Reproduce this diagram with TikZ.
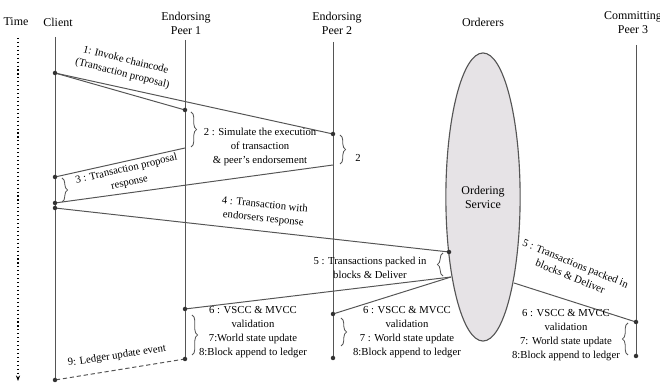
\documentclass[tikz,border=0pt]{standalone}
\usepackage{fontspec}
\setmainfont{Liberation Serif}
\usetikzlibrary{arrows.meta,calc,positioning,decorations.pathreplacing,shapes.geometric}
\definecolor{ordfill}{HTML}{E6E3E6}
\definecolor{linegray}{HTML}{555555}

\begin{document}
\begin{tikzpicture}[x=0.025cm,y=-0.025cm,
  head/.style={align=center,font=\fontsize{8.5}{10}\selectfont,inner sep=0pt},
  lbl/.style={align=center,font=\fontsize{7.6}{9.8}\selectfont,inner sep=0pt},
  life/.style={draw=linegray,line width=0.6pt},
  msg/.style={draw=linegray,line width=0.7pt},
  dot/.style={circle,fill=black!80,inner sep=0pt,minimum size=3.2pt},
  brc/.style={decorate,decoration={brace,amplitude=4pt},draw=linegray,line width=0.6pt}]
\useasboundingbox (0,0) rectangle (660,385);

% Draw headers
\node[head] (time) at (16,22) {Time};
\node[head] (client) at (58,22) {Client};
\node[head] (ep1) at (186,23) {Endorsing\\Peer 1};
\node[head] (ep2) at (337,23) {Endorsing\\Peer 2};
\node[head] (orderers) at (483,22) {Orderers};
\node[head] (cp3) at (633,23) {Committing\\Peer 3};

% Draw ordering service
\node[ellipse,draw=linegray,fill=ordfill,line width=0.8pt,minimum width=1.85cm,minimum height=7.2cm,
  align=center,font=\fontsize{8.5}{10}\selectfont] (ord) at (483,197) {Ordering\\Service};

% Points on the lifelines
\coordinate (t0) at (18,38);   \coordinate (t1) at (18,381);
\coordinate (c0) at (55,37);   \coordinate (c1) at (55,73);
\coordinate (c3a) at (55,177); \coordinate (c3b) at (55,203);
\coordinate (c4) at (55,208);  \coordinate (c9) at (55,380);
\coordinate (e10) at (185,40); \coordinate (e1in) at (185,110);
\coordinate (e1out) at (185,148); \coordinate (e1blk) at (185,309);
\coordinate (e1end) at (185,359);
\coordinate (e20) at (333,42); \coordinate (e2in) at (333,134);
\coordinate (e2out) at (333,165); \coordinate (e2blk) at (333,314);
\coordinate (e2end) at (333,358);
\coordinate (p30) at (636,45); \coordinate (p3blk) at (636,322);
\coordinate (p3end) at (636,356);
\coordinate (o4) at (449,252); \coordinate (o5) at (451,277);
\coordinate (o5r) at (514,283);

% Draw lifelines
\draw[dotted,line width=0.8pt,-{Stealth[length=4pt]}] (t0) -- (t1);
\draw[life] (c0) -- (c9);
\draw[life] (e10) -- (e1end);
\draw[life] (e20) -- (e2end);
\draw[life] (p30) -- (p3end);

% Draw messages
\draw[msg] (c1) -- (e1in);
\draw[msg] (c1) -- (e2in);
\draw[msg] (e1out) -- (c3a);
\draw[msg] (e2out) -- (c3b);
\draw[msg] (c4) -- (o4);
\draw[msg] (o5) -- (e1blk);
\draw[msg] (o5) -- (e2blk);
\draw[msg] (o5r) -- (p3blk);
\draw[msg,densely dashed] (e1end) -- (c9);
\foreach \p in {c1,e1in,e2in,c3a,c3b,c4,o4,e1blk,e2blk,p3blk,e1end,e2end,p3end,c9}
  \node[dot] at (\p) {};

% Draw braces
\draw[brc] ($(e1in)+(6,2)$) -- ($(e1out)+(6,-1)$);
\draw[brc] ($(e2in)+(7,1)$) -- ($(e2out)+(7,-1)$);
\draw[brc] ($(c3a)+(7,1)$) -- ($(c3b)+(7,-1)$);
\draw[brc] ($(o5)+(-8,-1)$) -- ($(o4)+(-6,1)$);
\draw[brc] ($(e1blk)+(7,6)$) -- ($(e1end)+(7,-4)$);
\draw[brc] ($(e2blk)+(8,4)$) -- ($(e2end)+(8,-12)$);
\draw[brc] ($(p3end)+(-8,-1)$) -- ($(p3blk)+(-8,1)$);

% Draw labels
\node[lbl,rotate=-14] (l1) at (124,67) {1: Invoke chaincode\\(Transaction proposal)};
\node[lbl] (l2) at (260,147) {2 : Simulate the execution\\of transaction\\\& peer's endorsement};
\node[lbl] (l2b) at (358,158) {2};
\node[lbl,rotate=13] (l3) at (128,176) {3 : Transaction proposal\\response};
\node[lbl,rotate=-6] (l4) at (264,212) {4 : Transaction with\\endorsers response};
\node[lbl] (l5) at (370,268) {5 : Transactions packed in\\blocks \& Deliver};
\node[lbl,rotate=-22] (l5r) at (573,270) {5 : Transactions packed in\\blocks \& Deliver};
\node[lbl] (l6a) at (253,332) {6 : VSCC \& MVCC\\validation\\7:World state update\\8:Block append to ledger};
\node[lbl] (l6b) at (407,332) {6 : VSCC \& MVCC\\validation\\7 : World state update\\8:Block append to ledger};
\node[lbl] (l6c) at (566,335) {6 : VSCC \& MVCC\\validation\\7: World state update\\8:Block append to ledger};
\node[lbl,rotate=8.5] (l9) at (117,356) {9: Ledger update event};
\end{tikzpicture}
\end{document}
